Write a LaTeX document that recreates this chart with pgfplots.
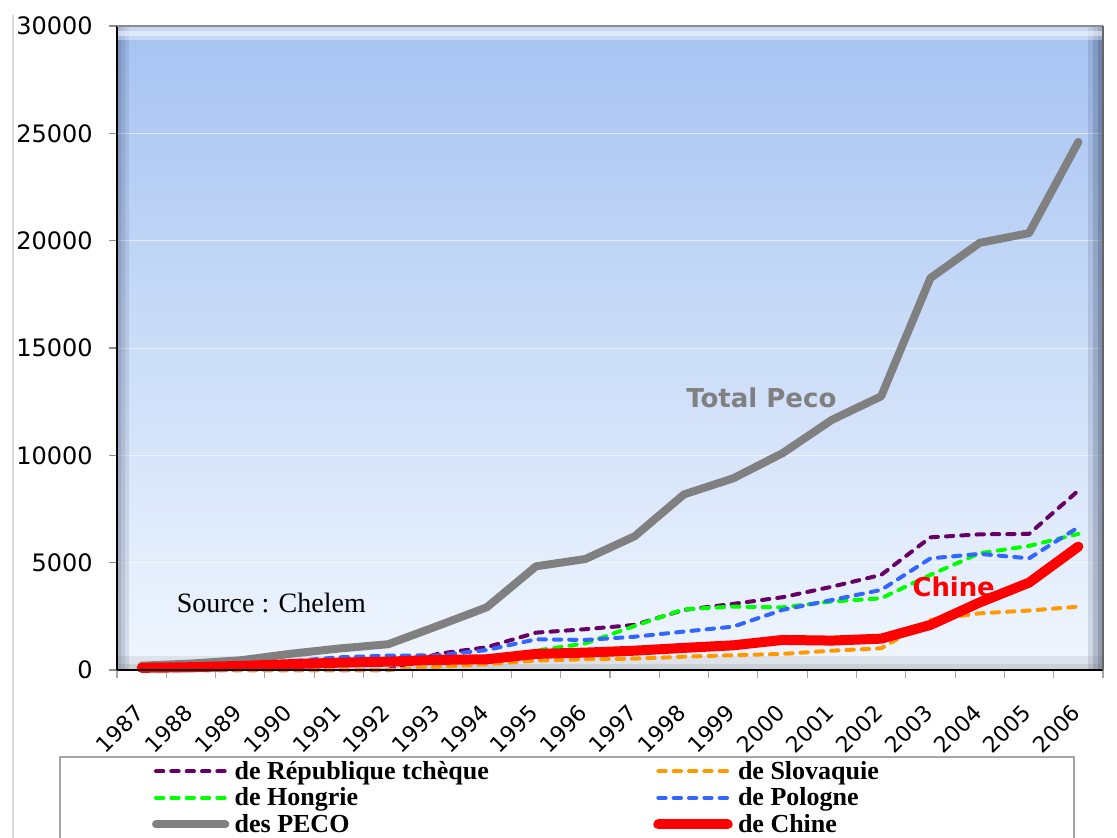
\documentclass[border=0pt]{standalone}
\usepackage{fontspec}
\setmainfont{Liberation Serif}
\newfontfamily\dvsans{DejaVu Sans}
\usepackage{pgfplots}
\usepackage{pgfplotstable}
\pgfplotsset{compat=1.18}

\definecolor{czech}{RGB}{102,0,102}
\definecolor{slov}{RGB}{255,153,0}
\definecolor{hung}{RGB}{0,255,0}
\definecolor{pol}{RGB}{51,102,255}
\definecolor{peco}{RGB}{128,128,128}
\definecolor{chine}{RGB}{255,0,0}
\definecolor{bgtop}{RGB}{166,195,242}
\definecolor{bgbot}{RGB}{240,246,254}
\definecolor{navy}{RGB}{40,55,90}

\pgfplotstableread{
idx czech slov hung pol peco chine
0 0 0 100 100 200 100
1 0 0 150 150 300 130
2 0 0 200 250 450 190
3 0 0 250 400 750 270
4 0 0 300 590 1000 340
5 0 0 330 670 1200 390
6 750 150 370 680 2050 470
7 1060 270 400 930 2920 500
8 1740 440 900 1430 4830 750
9 1900 500 1240 1400 5170 810
10 2100 530 2050 1550 6230 900
11 2800 620 2830 1790 8180 1030
12 3080 690 2950 2020 8930 1150
13 3390 750 2920 2800 10100 1400
14 3880 900 3190 3260 11650 1370
15 4430 1010 3340 3730 12750 1460
16 6180 2330 4430 5200 18260 2100
17 6320 2640 5440 5410 19900 3150
18 6340 2770 5780 5200 20350 4070
19 8360 2950 6340 6650 24600 5750
}\datatable

\begin{document}
\begin{tikzpicture}
\path[use as bounding box] (-87.75pt,-126pt) rectangle (750pt,502.5pt);
\draw[line width=1.2pt, black!15] (-78pt,-130pt) -- (-78pt,491pt);
\begin{axis}[
  at={(0pt,0pt)}, anchor=south west,
  scale only axis, width=739.5pt, height=483pt,
  xmin=-0.5, xmax=19.5, ymin=0, ymax=30000,
  xtick={-0.5,0.5,...,19.5},
  x tick label as interval,
  xticklabels={1987,1988,1989,1990,1991,1992,1993,1994,1995,1996,1997,1998,1999,2000,2001,2002,2003,2004,2005,2006},
  ytick={0,5000,...,30000},
  scaled y ticks=false,
  tick pos=left,
  axis line style={draw=none},
  tick align=outside,
  major tick length=6pt,
  xtick style={draw=black!35, line width=0.8pt},
  ytick style={draw=black!45, line width=0.8pt},
  /pgf/number format/assume math mode=true,
  /pgf/number format/1000 sep={},
  yticklabel style={font=\dvsans\fontsize{18}{20}\selectfont, inner sep=0pt, xshift=-12pt},
  xticklabel style={font=\dvsans\fontsize{16.5}{18}\selectfont, anchor=east, inner sep=0pt, xshift=-1.5pt, yshift=-23pt, rotate=45},
  axis background/.style={top color=bgtop, bottom color=bgbot},
  ymajorgrids, grid style={white, opacity=0.6, line width=0.6pt},
  clip=false,
  legend columns=2,
  legend cell align=left,
  legend image code/.code={\draw[#1] (0pt,1.5pt) -- (52pt,1.5pt);},
  legend style={at={(0.0355,-0.1424)}, anchor=north west, draw=none, fill=none,
    inner sep=0pt, outer sep=0pt,
    font=\bfseries\fontsize{19.5}{21}\selectfont,
    nodes={inner sep=0pt, text height=13pt, text depth=4.5pt, anchor=west},
    row sep=2.4pt,
    /tikz/every odd column/.style={column sep=4pt},
    /tikz/every even column/.style={column sep=0pt}},
]
% bevel strips
\fill[navy, fill opacity=0.12] (rel axis cs:0,0) rectangle (rel axis cs:0.0122,1);
\fill[navy, fill opacity=0.12] (rel axis cs:0,0) rectangle (rel axis cs:0.0081,1);
\fill[navy, fill opacity=0.12] (rel axis cs:0,0) rectangle (rel axis cs:0.0041,1);
\fill[navy, fill opacity=0.15] (rel axis cs:0.9848,0) rectangle (rel axis cs:1,1);
\fill[navy, fill opacity=0.18] (rel axis cs:0.9899,0) rectangle (rel axis cs:1,1);
\fill[navy, fill opacity=0.22] (rel axis cs:0.995,0) rectangle (rel axis cs:1,1);
\fill[white, fill opacity=0.35] (rel axis cs:0,0.979) rectangle (rel axis cs:1,1);
\fill[white, fill opacity=0.45] (rel axis cs:0,0.985) rectangle (rel axis cs:1,0.993);
\fill[black!60, fill opacity=0.12] (rel axis cs:0,0) rectangle (rel axis cs:1,0.021);
\fill[black!60, fill opacity=0.15] (rel axis cs:0,0) rectangle (rel axis cs:1,0.010);

\addplot[czech, line width=3pt, dash pattern=on 5.5pt off 6pt, line cap=round, line join=round] table[x=idx, y=czech] {\datatable};
\addlegendentry{\makebox[314pt][l]{de République tchèque}}
\addplot[slov, line width=3pt, dash pattern=on 5.5pt off 6pt, line cap=round, line join=round] table[x=idx, y=slov] {\datatable};
\addlegendentry{de Slovaquie}
\addplot[hung, line width=3pt, dash pattern=on 5.5pt off 6pt, line cap=round, line join=round] table[x=idx, y=hung] {\datatable};
\addlegendentry{\makebox[314pt][l]{de Hongrie}}
\addplot[pol, line width=3pt, dash pattern=on 5.5pt off 6pt, line cap=round, line join=round] table[x=idx, y=pol] {\datatable};
\addlegendentry{de Pologne}
\addplot[peco, line width=6pt, line cap=round, line join=round] table[x=idx, y=peco] {\datatable};
\addlegendentry{\makebox[314pt][l]{des PECO}}
\addplot[chine, line width=7.5pt, line cap=round, line join=round] table[x=idx, y=chine] {\datatable};
\addlegendentry{de Chine}

\draw[black, line width=1pt] (rel axis cs:0,0) -- (rel axis cs:0,1);
\draw[black, line width=1pt] (rel axis cs:0,0) -- (rel axis cs:1,0);
\draw[black!45, line width=1pt] (rel axis cs:0,1) -- (rel axis cs:1,1);
\draw[black!60, line width=1pt] (rel axis cs:1,0) -- (rel axis cs:1,1);

\node[font=\dvsans\bfseries\fontsize{19.5}{22}\selectfont, text=peco, anchor=base, inner sep=0pt] at (axis cs:12.57,12209) {Total Peco};
\node[font=\dvsans\bfseries\fontsize{19.4}{22}\selectfont, text=chine, anchor=base, inner sep=0pt] at (axis cs:16.47,3402) {Chine};
\node[font=\fontsize{21}{24}\selectfont, anchor=base, inner sep=0pt] at (axis cs:2.63,2656) {Source~: Chelem};
\end{axis}
\draw[black!35, line width=1pt] (-42.75pt,-140pt) |- (717.75pt,-65.25pt) -- (717.75pt,-140pt);
\end{tikzpicture}
\end{document}
